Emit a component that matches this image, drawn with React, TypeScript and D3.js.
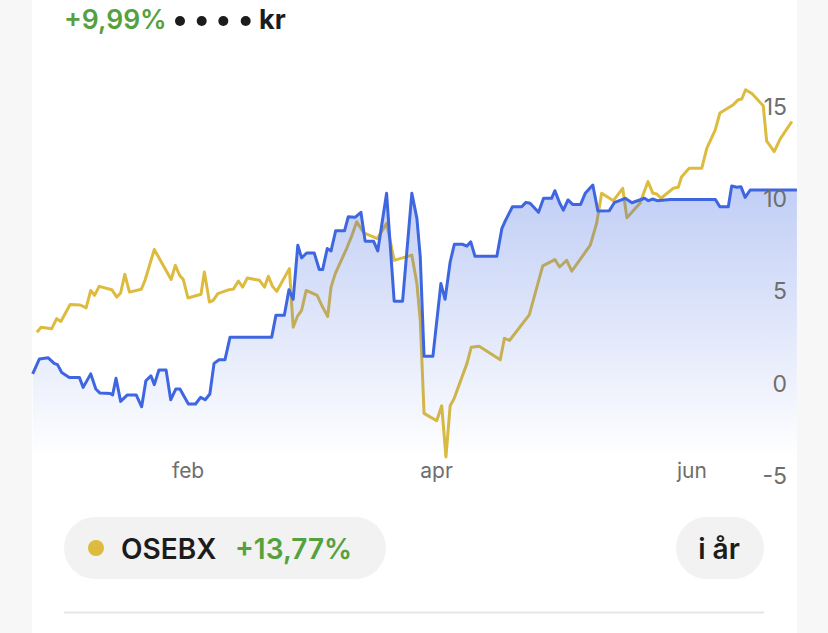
import React from "react";
import * as d3 from "d3";

// Days since 1 Jan 2025
const fundDays = [-2.1,-0.5,1.6,3.0,3.8,4.8,6.6,9.0,9.9,11.7,12.9,13.9,16.3,16.9,17.7,18.8,20.4,22.5,23.8,24.8,26.0,26.8,27.9,29.6,30.7,31.9,32.9,34.9,36.6,37.8,38.9,40.0,41.0,42.2,43.6,44.8,54.7,55.7,57.7,58.8,59.8,60.9,61.8,63.0,64.8,66.0,66.8,67.9,68.8,69.9,72.0,72.9,74.5,75.9,76.9,78.9,79.9,82.0,83.8,85.8,88.0,89.2,90.0,90.9,93.0,94.9,95.9,97.1,98.1,100.0,101.1,102.0,103.0,108.2,109.4,110.2,111.9,114.1,115.1,116.1,118.1,119.3,121.2,122.0,123.1,124.0,125.1,126.2,128.1,129.2,131.0,132.2,134.9,136.1,138.7,140.3,143.3,144.2,145.2,146.3,149.4,160.1,161.2,163.2,164.0,165.2,166.2,167.2,168.4,179.5];
const fundValues = [0.53,1.34,1.4,1.1,1.03,0.61,0.34,0.34,-0.2,0.53,-0.29,-0.51,-0.53,-0.61,0.29,-0.96,-0.61,-0.61,-1.25,0.16,0.43,-0.05,0.74,0.74,-0.87,-0.29,-0.29,-1.1,-1.1,-0.74,-0.87,-0.56,1.1,1.3,1.3,2.52,2.52,3.7,3.7,5.09,4.57,7.5,6.81,7.08,7.08,6.18,6.18,7.32,7.19,8.28,8.28,9.04,9.01,9.28,7.72,7.72,7.19,10.31,4.47,4.47,10.31,8.95,6.86,1.48,1.48,5.42,4.57,6.59,7.55,7.55,7.45,7.68,6.9,6.9,8.41,8.82,9.58,9.58,9.82,9.77,9.28,10.04,10.04,10.45,9.8,9.4,9.95,9.71,9.71,10.31,10.76,9.35,9.36,9.8,10.04,9.8,10.04,9.91,10.0,9.91,9.98,9.98,9.58,9.58,10.71,10.64,10.67,10.09,10.49,10.49];

const osebxDays = [-1.1,-0.1,2.4,3.6,4.6,6.8,9.2,10.6,11.7,12.6,13.7,16.7,17.9,18.8,19.8,20.9,23.7,24.6,26.8,28.9,30.8,31.8,32.8,33.7,34.8,37.9,38.7,39.9,40.8,41.9,44.6,45.6,46.8,47.8,48.9,51.8,53.0,53.9,54.9,55.9,58.9,59.8,60.8,61.8,62.9,65.5,66.8,68.0,68.8,69.8,72.5,73.7,74.9,76.6,79.8,82.0,83.8,88.0,89.2,90.0,90.9,93.9,95.1,96.1,97.1,98.0,101.1,102.1,104.0,109.0,110.0,111.2,115.9,119.1,122.0,123.1,124.8,126.0,130.4,131.9,133.1,135.9,138.1,139.1,142.2,144.1,145.3,146.2,147.2,150.1,151.3,152.1,153.9,156.9,158.1,160.1,161.2,164.4,165.6,166.4,167.3,168.8,171.5,172.3,174.1,175.5,178.3];
const osebxValues = [2.79,3.06,2.97,3.52,3.37,4.29,4.26,4.11,5.05,4.78,5.27,5.09,4.69,4.91,5.92,4.96,5.11,5.6,7.27,6.41,5.64,6.41,5.87,5.64,4.64,4.84,6.05,4.42,4.51,4.88,5.09,5.12,5.56,5.23,5.72,5.6,5.23,5.82,5.27,5.0,6.23,3.06,3.64,3.97,5.05,4.78,4.15,3.64,5.23,5.96,7.32,7.99,8.77,8.17,7.86,8.68,6.68,6.96,5.42,3.42,-1.61,-2.01,-1.2,-3.97,-1.2,-0.83,1.1,1.97,2.03,1.29,2.46,2.34,3.73,6.38,6.72,6.32,6.68,6.09,7.5,8.68,10.31,9.91,10.58,8.98,9.77,10.94,10.31,10.27,10.04,10.58,10.64,11.21,11.67,11.67,12.76,13.75,14.66,15.11,15.38,15.42,15.92,15.71,15.05,13.15,12.57,13.24,14.2];

const monthLabels = ["feb", "apr", "jun"];
const monthDays = [31, 90, 151];
const yTicks = [-5, 0, 5, 10, 15];

const headerChange = "+9,99%";
const benchmarkName = "OSEBX";
const benchmarkChange = "+13,77%";
const periodLabel = "i år";

const W = 828;
const H = 633;
const FONT = "Inter, 'Noto Sans', sans-serif";
const BLUE = "#3e66e0";
const YELLOW = "#dcbb3e";
const GREEN = "#55a13d";

export default function App() {
  const x = d3.scaleLinear().domain([-2.26, 179.52]).range([32, 797]);
  const y = d3.scaleLinear().domain([-5, 15]).range([476, 106.7]);
  const plotBottom = 458;

  const fund = d3.zip(fundDays, fundValues) as [number, number][];
  const osebx = d3.zip(osebxDays, osebxValues) as [number, number][];

  const line = d3
    .line<[number, number]>()
    .x((d) => x(d[0]))
    .y((d) => y(d[1]))
    .curve(d3.curveLinear);
  const area = d3
    .area<[number, number]>()
    .x((d) => x(d[0]))
    .y0(plotBottom)
    .y1((d) => y(d[1]));

  const maxFund = d3.max(fundValues) as number;
  const dotXs = [180, 201.7, 223.3, 245.7];

  return (
    <svg
      width={W}
      height={H}
      viewBox={`0 0 ${W} ${H}`}
      style={{ position: "absolute", left: 0, top: 0, display: "block" }}
      fontFamily={FONT}
    >
      <defs>
        <linearGradient
          id="fundFill"
          gradientUnits="userSpaceOnUse"
          x1={0}
          x2={0}
          y1={y(maxFund)}
          y2={plotBottom}
        >
          <stop offset="0%" stopColor="#4169e1" stopOpacity={0.33} />
          <stop offset="100%" stopColor="#4169e1" stopOpacity={0} />
        </linearGradient>
      </defs>
      <rect x={0} y={0} width={W} height={H} fill="#f7f7f7" />
      <rect x={32} y={0} width={765} height={H} fill="#ffffff" />

      {/* header */}
      <text x={64} y={29} fontSize={26.5} fontWeight={600} fill={GREEN}>
        {headerChange}
      </text>
      {dotXs.map((cx, i) => (
        <circle key={i} cx={cx} cy={21} r={5} fill="#1c1c1c" />
      ))}
      <text x={259} y={29} fontSize={27} fontWeight={700} fill="#1c1c1c">
        kr
      </text>

      {/* series */}
      <path d={line(osebx) || ""} fill="none" stroke={YELLOW} strokeWidth={3} strokeLinejoin="round" />
      <path d={area(fund) || ""} fill="url(#fundFill)" />
      <path d={line(fund) || ""} fill="none" stroke={BLUE} strokeWidth={3} strokeLinejoin="round" />

      {/* y axis labels */}
      {yTicks.map((t) => (
        <text
          key={t}
          x={787}
          y={y(t)}
          textAnchor="end"
          dominantBaseline="central"
          fontSize={23}
          fill="#6e6e6e"
        >
          {t}
        </text>
      ))}

      {/* x axis labels */}
      {monthLabels.map((m, i) => (
        <text
          key={m}
          x={x(monthDays[i])}
          y={470}
          dominantBaseline="central"
          fontSize={21}
          fill="#6e6e6e"
        >
          {m}
        </text>
      ))}

      {/* benchmark pill */}
      <rect x={64} y={517} width={322} height={62} rx={31} fill="#f2f2f2" />
      <circle cx={96} cy={548} r={8} fill={YELLOW} />
      <text x={121} y={549} dominantBaseline="central" fontSize={28} fontWeight={600} fill="#1c1c1c">
        {benchmarkName}
      </text>
      <text x={235} y={549} dominantBaseline="central" fontSize={28} fontWeight={600} fill={GREEN}>
        {benchmarkChange}
      </text>

      {/* period pill */}
      <rect x={676} y={517} width={88} height={62} rx={31} fill="#f2f2f2" />
      <text x={719} y={549} textAnchor="middle" dominantBaseline="central" fontSize={28} fontWeight={600} fill="#1c1c1c">
        {periodLabel}
      </text>

      <line x1={64} x2={764} y1={612.5} y2={612.5} stroke="#e6e6e6" strokeWidth={2} />
    </svg>
  );
}
